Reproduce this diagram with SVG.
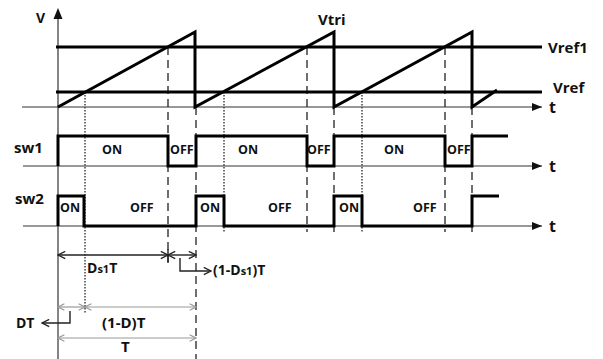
<svg xmlns="http://www.w3.org/2000/svg" width="603" height="359" viewBox="0 0 603 359">
<defs>
<style>
.txt{font-family:"Open Sans","Liberation Sans",sans-serif;font-weight:bold;fill:#111}
.lbl{font-size:15px}
.st{font-size:12.5px}
.ax{stroke:#333;stroke-width:1.2;fill:none}
.wave{stroke:#000;stroke-width:3;fill:none;stroke-linejoin:miter}
.dash{stroke:#222;stroke-width:1.3;stroke-dasharray:8 5;fill:none}
.dot{stroke:#444;stroke-width:1.5;stroke-dasharray:1.5 1.5;fill:none}
.dim{stroke:#222;stroke-width:1.4;fill:none}
.dimg{stroke:#999;stroke-width:1.2;fill:none}
</style>
<marker id="ah" viewBox="0 0 10 10" refX="9" refY="5" markerWidth="9" markerHeight="9" markerUnits="userSpaceOnUse" orient="auto-start-reverse">
<path d="M1,1 L9,5 L1,9" fill="none" stroke="#222" stroke-width="1.5"/>
</marker>
<marker id="ahg" viewBox="0 0 10 10" refX="9" refY="5" markerWidth="8" markerHeight="8" markerUnits="userSpaceOnUse" orient="auto-start-reverse">
<path d="M1,1 L9,5 L1,9" fill="none" stroke="#999" stroke-width="1.5"/>
</marker>
<marker id="fa" viewBox="0 0 10 10" refX="10" refY="5" markerWidth="12" markerHeight="10" markerUnits="userSpaceOnUse" orient="auto">
<path d="M0,1 L10,5 L0,9 Z" fill="#111"/>
</marker>
</defs>
<rect width="603" height="359" fill="#fff"/>

<g id="axes">
<line class="ax" x1="58" y1="17" x2="58" y2="359"/>
<polygon points="58,8 53.5,19 62.5,19" fill="#111"/>
<line class="ax" x1="22" y1="107" x2="542" y2="107" marker-end="url(#fa)"/>
<line class="ax" x1="23" y1="166" x2="542" y2="166" marker-end="url(#fa)"/>
<line class="ax" x1="23" y1="226" x2="542" y2="226" marker-end="url(#fa)"/>
</g>

<g id="guides">
<line class="dash" x1="168" y1="47" x2="168" y2="267"/>
<line class="dash" x1="196" y1="107" x2="196" y2="359"/>
<line class="dash" x1="307" y1="47" x2="307" y2="232"/>
<line class="dash" x1="334" y1="107" x2="334" y2="232"/>
<line class="dash" x1="445" y1="47" x2="445" y2="232"/>
<line class="dash" x1="472" y1="107" x2="472" y2="232"/>
<line class="dot" x1="85" y1="92" x2="85" y2="313"/>
<line class="dot" x1="224" y1="92" x2="224" y2="232"/>
<line class="dot" x1="362" y1="92" x2="362" y2="232"/>
</g>

<g id="vref1">
<line class="wave" x1="56" y1="47" x2="542" y2="47"/>
<text class="txt lbl" x="548" y="53">Vref1</text>
</g>
<g id="vref">
<line class="wave" x1="56" y1="92" x2="542" y2="92"/>
<text class="txt lbl" x="553" y="93">Vref</text>
</g>
<g id="vtri">
<path class="wave" d="M58,107 L195,32 V107 L334,32 V107 L472,32 V107 L497,90"/>
<text class="txt lbl" x="318" y="25">Vtri</text>
</g>

<g id="sw1">
<path class="wave" d="M58,166 V136 H168 V166 H196 V136 H307 V166 H334 V136 H445 V166 H472 V136 H508"/>
<text class="txt lbl" x="14" y="153">sw1</text>
<text class="txt st" x="102" y="154">ON</text>
<text class="txt st" x="170" y="154">OFF</text>
<text class="txt st" x="238" y="154">ON</text>
<text class="txt st" x="307" y="154">OFF</text>
<text class="txt st" x="384" y="154">ON</text>
<text class="txt st" x="447" y="154">OFF</text>
</g>

<g id="sw2">
<path class="wave" d="M58,226 V196 H84 V226 H196 V196 H224 V226 H334 V196 H362 V226 H472 V196 H499"/>
<text class="txt lbl" x="15" y="204">sw2</text>
<text class="txt st" x="60" y="212">ON</text>
<text class="txt st" x="130" y="212">OFF</text>
<text class="txt st" x="200" y="212">ON</text>
<text class="txt st" x="268" y="212">OFF</text>
<text class="txt st" x="339" y="212">ON</text>
<text class="txt st" x="413" y="212">OFF</text>
</g>

<g id="labels">
<text class="txt" x="36" y="23" font-size="14">V</text>
<text class="txt" x="549" y="113" font-size="16">t</text>
<text class="txt" x="549" y="172" font-size="16">t</text>
<text class="txt" x="549" y="232" font-size="16">t</text>
</g>

<g id="dimensions">
<line class="dim" x1="58" y1="255" x2="168" y2="255" marker-start="url(#ah)" marker-end="url(#ah)"/>
<line class="dim" x1="168" y1="255" x2="196" y2="255" marker-start="url(#ah)" marker-end="url(#ah)"/>
<line class="dim" x1="168" y1="249" x2="168" y2="262"/>
<path class="dim" d="M180,258 V271 H211" marker-end="url(#ah)"/>
<text class="txt" x="87" y="273" font-size="14">D<tspan font-size="11">s1</tspan>T</text>
<text class="txt" x="213" y="275" font-size="14">(1-D<tspan font-size="11">s1</tspan>)T</text>

<line class="dimg" x1="58" y1="307" x2="85" y2="307" marker-start="url(#ahg)" marker-end="url(#ahg)"/>
<line class="dimg" x1="85" y1="307" x2="196" y2="307" marker-start="url(#ahg)" marker-end="url(#ahg)"/>
<path class="dim" d="M70,311 V323 H42" marker-end="url(#ah)"/>
<text class="txt" x="16" y="328" font-size="14">DT</text>
<text class="txt" x="102" y="328" font-size="15">(1-D)T</text>

<line class="dimg" x1="58" y1="338" x2="196" y2="338" marker-start="url(#ahg)" marker-end="url(#ahg)"/>
<text class="txt" x="121" y="352" font-size="15">T</text>
</g>
</svg>
